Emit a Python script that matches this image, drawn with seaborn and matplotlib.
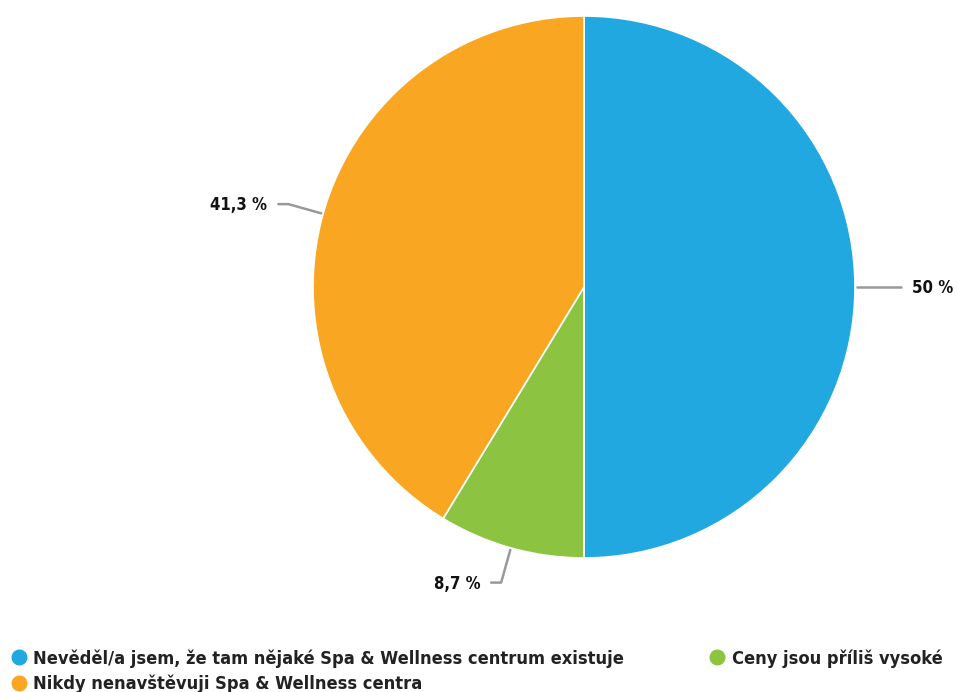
import numpy as np
import matplotlib
matplotlib.use("Agg")
import matplotlib.pyplot as plt
from matplotlib.lines import Line2D
import seaborn as sns

# Survey answers and their shares (percent)
categories = [
    "Nevěděl/a jsem, že tam nějaké Spa & Wellness centrum existuje",
    "Ceny jsou příliš vysoké",
    "Nikdy nenavštěvuji Spa & Wellness centra",
]
values = [50.0, 8.7, 41.3]
value_labels = ["50 %", "8,7 %", "41,3 %"]
colors = ["#21a8e0", "#8cc442", "#f9a723"]

sns.set_theme(style="white")
plt.rcParams["font.family"] = ["DejaVu Sans"]

W, H = 958, 692
fig = plt.figure(figsize=(W / 100, H / 100), dpi=100)
ax = fig.add_axes([0, 0, 1, 1])

cx, cy, r = 584, H - 287, 271
wedges, _ = ax.pie(
    values, colors=colors, startangle=90, counterclock=False,
    center=(cx, cy), radius=r, frame=True,
    wedgeprops=dict(edgecolor="white", linewidth=1.2),
)
ax.set_xlim(0, W)
ax.set_ylim(0, H)
ax.set_aspect("equal")
ax.axis("off")

# Connector lines and value labels, placed from each wedge's mid angle
for w, lab in zip(wedges, value_labels):
    mid = np.deg2rad((w.theta1 + w.theta2) / 2)
    c, s = np.cos(mid), np.sin(mid)
    x0, y0 = cx + (r + 2) * c, cy + (r + 2) * s
    x1, y1 = cx + (r + 36) * c, cy + (r + 36) * s
    side = 1 if c >= 0 else -1
    x2 = x1 + side * 10
    ax.plot([x0, x1, x2], [y0, y1, y1], color="#999999", lw=1.8,
            solid_capstyle="round", solid_joinstyle="round", zorder=3)
    ax.text(x2 + side * 11, y1 - 1, lab, ha="left" if side > 0 else "right",
            va="center", fontsize=12, fontweight="bold", fontstretch="condensed",
            color="#111111")

# Legend: two columns, first column holds blue and orange entries
order = [0, 2, 1]
handles = [Line2D([], [], marker="o", linestyle="none", markersize=10.5,
                  markerfacecolor=colors[i], markeredgecolor=colors[i])
           for i in order]
fig.legend(handles, [categories[i] for i in order], ncol=2,
           loc="lower left", bbox_to_anchor=(-0.007, -0.025), frameon=False,
           prop=dict(size=13.1, weight="bold", stretch="condensed"),
           handletextpad=0.3, handlelength=1.0, columnspacing=4.6,
           labelspacing=0.38, labelcolor="#222222")

fig.savefig("out.png", dpi=100, facecolor="white")
